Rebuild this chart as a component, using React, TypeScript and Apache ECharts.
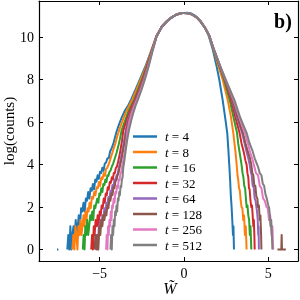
import React, { useEffect, useRef } from "react";
import * as echarts from "echarts";

const seriesNames = ["t = 4", "t = 8", "t = 16", "t = 32", "t = 64", "t = 128", "t = 256", "t = 512"];
const colors = ["#1f77b4", "#ff7f0e", "#2ca02c", "#d62728", "#9467bd", "#8c564b", "#e377c2", "#7f7f7f"];
const xTicks = [-5, 0, 5];
const yTicks = [0, 2, 4, 6, 8, 10];

const t4 = [[-7.53,0],[-7.45,0],[-7.2,null],
[-6.92,0],[-6.86,0.69],[-6.8,0],[-6.74,1.1],[-6.68,0],[-6.62,0.69],[-6.55,1.1],[-6.48,0.69],[-6.42,1.39],[-6.36,0.69],[-6.3,1.1],[-6.24,1.61],[-6.17,1.1],[-6.1,1.95],[-6.03,1.79],[-5.96,2.2],[-5.89,1.79],[-5.82,2.4],[-5.75,2.3],[-5.68,2.71],[-5.61,2.4],[-5.54,2.89],[-5.47,2.77],[-5.4,3.09],[-5.33,2.83],[-5.26,3.3],[-5.19,3.2],[-5.12,3.5],[-5.05,3.33],[-4.98,3.66],[-4.91,3.6],[-4.84,3.85],[-4.77,3.71],[-4.7,4.04],[-4.62,4.1],[-4.54,4.3],[-4.46,4.3],[-4.38,4.62],[-4.3,4.75],[-4.2,4.95],[-4.1,5.25],[-4.0,5.55],[-3.85,5.9],[-3.7,6.2],[-3.5,6.55],[-3.3,6.8],[-3.15,7.04],[-2.88,7.52],[-2.62,8.0],[-2.3,8.6],[-1.95,9.35],[-1.65,10.0],[-1.3,10.48],[-1.0,10.74],[-0.75,10.91],[-0.5,11.03],[-0.25,11.11],[0.0,11.15],[0.2,11.16],[0.45,11.12],[0.7,11.0],[1.0,10.76],[1.25,10.45],[1.45,10.12],[1.72,9.4],[1.95,8.6],[2.1,8.0],[2.3,7.04],[2.45,6.2],[2.57,5.5],[2.63,4.8],[2.69,4.0],[2.74,3.3],[2.78,2.6],[2.83,2.0],[2.87,1.39],[2.91,0.69],[2.94,1.1],[2.97,0]];

const t8 = [[-6.62,0],[-6.56,0.69],[-6.5,0],[-6.44,1.1],[-6.38,0.69],[-6.32,0],[-6.26,1.1],[-6.2,0.69],[-6.14,1.39],[-6.08,0.69],[-6.02,1.1],[-5.96,1.61],[-5.9,1.1],[-5.84,1.79],[-5.78,1.39],[-5.72,1.95],[-5.66,1.79],[-5.6,2.2],[-5.53,1.95],[-5.46,2.48],[-5.39,2.4],[-5.32,2.71],[-5.25,2.56],[-5.18,2.94],[-5.11,2.89],[-5.04,3.18],[-4.97,3.0],[-4.9,3.4],[-4.83,3.33],[-4.76,3.6],[-4.69,3.47],[-4.62,3.8],[-4.55,3.85],[-4.45,4.05],[-4.35,4.3],[-4.25,4.55],[-4.15,4.8],[-4.05,5.05],[-3.95,5.35],[-3.85,5.6],[-3.65,6.05],[-3.45,6.45],[-3.25,6.78],[-3.08,7.04],[-2.82,7.52],[-2.57,8.0],[-2.26,8.6],[-1.93,9.38],[-1.64,10.05],[-1.3,10.52],[-1.0,10.77],[-0.75,10.93],[-0.5,11.05],[-0.25,11.12],[0.0,11.15],[0.25,11.13],[0.5,11.07],[0.75,10.94],[1.0,10.74],[1.25,10.46],[1.48,10.1],[1.77,9.38],[2.06,8.6],[2.3,8.0],[2.6,7.04],[2.78,6.3],[2.93,5.5],[3.0,5.0],[3.06,4.6],[3.13,4.0],[3.18,3.5],[3.22,3.3],[3.27,2.9],[3.32,2.77],[3.37,2.3],[3.42,2.0],[3.47,1.95],[3.52,1.39],[3.57,1.61],[3.62,0.69],[3.67,1.1],[3.72,0]];

const t16 = [[-6.0,0],[-5.95,0.69],[-5.9,0],[-5.85,1.1],[-5.8,0.69],[-5.74,1.39],[-5.68,0.69],[-5.62,1.1],[-5.56,1.61],[-5.5,1.39],[-5.44,1.79],[-5.38,1.39],[-5.32,2.08],[-5.26,1.95],[-5.2,2.2],[-5.14,2.4],[-5.08,2.2],[-5.02,2.64],[-4.96,2.56],[-4.9,2.89],[-4.84,2.71],[-4.78,3.09],[-4.72,3.04],[-4.66,3.3],[-4.6,3.18],[-4.54,3.5],[-4.48,3.47],[-4.42,3.66],[-4.36,3.71],[-4.28,3.9],[-4.2,4.05],[-4.1,4.3],[-4.0,4.55],[-3.9,4.85],[-3.8,5.2],[-3.7,5.6],[-3.48,6.1],[-3.3,6.5],[-3.12,6.8],[-2.97,7.04],[-2.74,7.5],[-2.5,8.0],[-2.22,8.6],[-1.91,9.38],[-1.63,10.05],[-1.3,10.52],[-1.0,10.77],[-0.75,10.93],[-0.5,11.05],[-0.25,11.12],[0.0,11.15],[0.25,11.13],[0.5,11.07],[0.75,10.94],[1.0,10.73],[1.25,10.45],[1.5,10.08],[1.78,9.38],[2.12,8.6],[2.38,8.0],[2.72,7.04],[2.95,6.2],[3.15,5.5],[3.22,5.0],[3.3,4.6],[3.42,4.0],[3.48,3.6],[3.53,3.4],[3.58,3.0],[3.63,2.89],[3.68,2.4],[3.72,2.0],[3.77,2.08],[3.82,1.61],[3.87,1.39],[3.91,0.69],[3.95,1.1],[4.0,0]];

const t32 = [[-5.5,0],[-5.45,0.69],[-5.4,0],[-5.35,1.1],[-5.3,0.69],[-5.24,1.39],[-5.18,1.1],[-5.12,1.61],[-5.06,1.1],[-5.0,1.79],[-4.94,1.61],[-4.88,2.08],[-4.82,1.95],[-4.76,2.4],[-4.7,2.2],[-4.64,2.64],[-4.58,2.56],[-4.52,2.94],[-4.46,2.83],[-4.4,3.18],[-4.34,3.14],[-4.28,3.4],[-4.22,3.3],[-4.16,3.61],[-4.1,3.6],[-4.04,3.85],[-3.98,3.9],[-3.9,4.15],[-3.82,4.45],[-3.74,4.8],[-3.67,5.15],[-3.6,5.6],[-3.4,6.1],[-3.22,6.5],[-3.08,6.78],[-2.92,7.04],[-2.69,7.5],[-2.46,8.0],[-2.2,8.6],[-1.9,9.38],[-1.63,10.05],[-1.3,10.52],[-1.0,10.77],[-0.75,10.93],[-0.5,11.05],[-0.25,11.12],[0.0,11.15],[0.25,11.13],[0.5,11.07],[0.75,10.94],[1.0,10.73],[1.25,10.45],[1.5,10.08],[1.79,9.38],[2.14,8.6],[2.42,8.0],[2.8,7.04],[3.05,6.25],[3.3,5.5],[3.42,5.0],[3.55,4.6],[3.65,4.2],[3.72,4.0],[3.77,3.6],[3.82,3.4],[3.86,2.9],[3.9,2.83],[3.95,2.3],[4.0,2.0],[4.04,2.08],[4.08,1.61],[4.12,1.1],[4.15,1.39],[4.18,0.69],[4.2,0]];

const t64 = [[-5.2,0],[-5.15,0.69],[-5.1,0],[-5.05,1.1],[-5.0,0.69],[-4.95,1.39],[-4.9,1.1],[-4.84,1.61],[-4.78,1.39],[-4.72,1.95],[-4.66,1.61],[-4.6,2.2],[-4.54,2.08],[-4.48,2.48],[-4.42,2.3],[-4.36,2.77],[-4.3,2.71],[-4.24,3.04],[-4.18,2.94],[-4.12,3.3],[-4.06,3.26],[-4.0,3.5],[-3.94,3.53],[-3.88,3.8],[-3.82,4.0],[-3.74,4.3],[-3.66,4.65],[-3.58,5.0],[-3.52,5.3],[-3.46,5.6],[-3.32,6.1],[-3.15,6.5],[-3.0,6.8],[-2.86,7.04],[-2.64,7.5],[-2.42,8.0],[-2.17,8.6],[-1.88,9.38],[-1.62,10.05],[-1.3,10.52],[-1.0,10.77],[-0.75,10.93],[-0.5,11.05],[-0.25,11.12],[0.0,11.15],[0.25,11.13],[0.5,11.07],[0.75,10.94],[1.0,10.73],[1.25,10.45],[1.5,10.08],[1.8,9.38],[2.16,8.6],[2.44,8.0],[2.86,7.04],[3.15,6.2],[3.45,5.5],[3.6,5.0],[3.72,4.6],[3.82,4.3],[3.9,4.0],[3.96,3.7],[4.02,3.5],[4.08,3.0],[4.14,2.94],[4.2,2.4],[4.25,2.3],[4.3,2.0],[4.34,1.79],[4.38,1.39],[4.41,0.69],[4.43,1.1],[4.45,0]];

const t128 = [[-5.3,0],[-5.25,0.69],[-5.2,0],[-5.14,0.69],[-5.08,0],[-5.02,1.1],[-4.96,0.69],[-4.9,1.39],[-4.84,1.1],[-4.78,1.61],[-4.72,1.39],[-4.66,1.79],[-4.6,1.61],[-4.54,2.08],[-4.48,1.95],[-4.42,2.4],[-4.36,2.3],[-4.3,2.64],[-4.24,2.56],[-4.18,2.94],[-4.12,2.89],[-4.06,3.22],[-4.0,3.26],[-3.94,3.5],[-3.88,3.6],[-3.82,3.85],[-3.76,4.05],[-3.68,4.35],[-3.6,4.7],[-3.52,5.05],[-3.46,5.35],[-3.42,5.6],[-3.28,6.1],[-3.12,6.5],[-2.98,6.8],[-2.84,7.04],[-2.62,7.5],[-2.4,8.0],[-2.16,8.6],[-1.88,9.38],[-1.62,10.05],[-1.3,10.52],[-1.0,10.77],[-0.75,10.93],[-0.5,11.05],[-0.25,11.12],[0.0,11.15],[0.25,11.13],[0.5,11.07],[0.75,10.94],[1.0,10.73],[1.25,10.45],[1.5,10.08],[1.8,9.38],[2.16,8.6],[2.45,8.0],[2.88,7.04],[3.2,6.2],[3.5,5.5],[3.66,5.0],[3.8,4.6],[3.92,4.3],[4.0,4.0],[4.06,3.6],[4.12,3.5],[4.18,3.0],[4.24,3.0],[4.3,2.5],[4.36,2.4],[4.4,2.0],[4.45,2.08],[4.5,1.39],[4.54,1.61],[4.58,0.69],[4.6,0],[5.1,null],[5.55,0],[5.78,0],[5.8,0.69],[5.82,0],[6.05,0]];

const t256 = [[-4.62,0],[-4.58,0.69],[-4.54,0],[-4.5,1.1],[-4.46,0.69],[-4.42,1.39],[-4.38,1.1],[-4.34,1.79],[-4.3,1.39],[-4.26,2.08],[-4.22,1.95],[-4.17,2.4],[-4.12,2.2],[-4.07,2.71],[-4.02,2.64],[-3.97,3.0],[-3.92,2.89],[-3.87,3.3],[-3.82,3.26],[-3.77,3.56],[-3.72,3.66],[-3.66,3.95],[-3.6,4.2],[-3.53,4.5],[-3.46,4.85],[-3.4,5.2],[-3.35,5.6],[-3.22,6.1],[-3.07,6.5],[-2.93,6.8],[-2.8,7.04],[-2.58,7.5],[-2.36,8.0],[-2.13,8.6],[-1.87,9.38],[-1.62,10.05],[-1.3,10.52],[-1.0,10.77],[-0.75,10.93],[-0.5,11.05],[-0.25,11.12],[0.0,11.15],[0.25,11.13],[0.5,11.07],[0.75,10.94],[1.0,10.73],[1.25,10.45],[1.5,10.08],[1.8,9.38],[2.17,8.6],[2.47,8.0],[2.95,7.04],[3.3,6.2],[3.62,5.5],[3.8,5.0],[3.92,4.6],[4.05,4.3],[4.15,4.0],[4.28,3.6],[4.4,3.5],[4.5,3.0],[4.6,2.89],[4.7,2.4],[4.8,2.3],[4.9,2.0],[4.98,1.95],[5.05,1.39],[5.12,1.61],[5.2,0.69],[5.25,1.1],[5.3,0]];

const t512 = [[-4.36,0],[-4.32,0.69],[-4.28,0],[-4.24,1.1],[-4.2,0.69],[-4.16,1.39],[-4.12,1.1],[-4.08,1.79],[-4.04,1.61],[-4.0,2.08],[-3.96,1.79],[-3.92,2.4],[-3.88,2.3],[-3.84,2.71],[-3.8,2.56],[-3.76,3.0],[-3.72,2.94],[-3.68,3.3],[-3.64,3.4],[-3.6,3.85],[-3.55,4.1],[-3.5,4.4],[-3.44,4.75],[-3.38,5.1],[-3.3,5.45],[-3.24,5.7],[-3.12,6.1],[-2.98,6.5],[-2.86,6.8],[-2.74,7.04],[-2.53,7.5],[-2.32,8.0],[-2.1,8.6],[-1.85,9.38],[-1.62,10.05],[-1.3,10.52],[-1.0,10.77],[-0.75,10.93],[-0.5,11.05],[-0.25,11.12],[0.0,11.15],[0.25,11.13],[0.5,11.07],[0.75,10.94],[1.0,10.73],[1.25,10.45],[1.5,10.08],[1.8,9.38],[2.18,8.6],[2.48,8.0],[3.0,7.04],[3.35,6.2],[3.72,5.5],[3.9,5.0],[4.05,4.7],[4.2,4.3],[4.3,4.1],[4.4,3.9],[4.5,3.6],[4.6,3.5],[4.68,3.1],[4.76,3.0],[4.84,2.6],[4.92,2.4],[5.0,2.1],[5.06,1.95],[5.1,1.61],[5.14,1.1],[5.18,1.39],[5.22,0.69],[5.25,0]];

const allData = [t4, t8, t16, t32, t64, t128, t256, t512];

const serif = "'Liberation Serif', 'DejaVu Serif', serif";

export default function App() {
  const ref = useRef<HTMLDivElement>(null);
  useEffect(() => {
    if (!ref.current) return;
    const chart = echarts.init(ref.current, null, { renderer: "svg" });
    const tickStyle = { show: true, inside: true, length: 4, lineStyle: { color: "#000", width: 1 } };
    const lineStyle = { show: true, lineStyle: { color: "#000", width: 1.2 } };
    chart.setOption({
      animation: false,
      grid: { left: 39, right: 2, top: 1, bottom: 39, containLabel: false },
      xAxis: [
        {
          type: "value", min: -8.6, max: 6.77, position: "bottom",
          axisLine: { ...lineStyle, onZero: false },
          axisTick: { ...tickStyle, customValues: xTicks },
          axisLabel: { customValues: xTicks, color: "#000", fontFamily: serif, fontSize: 14, margin: 5,
            formatter: (v: number) => (v < 0 ? "\u2212" + Math.abs(v) : String(v)) },
          splitLine: { show: false },
        },
        {
          type: "value", min: -8.6, max: 6.77, position: "top",
          axisLine: { ...lineStyle, onZero: false },
          axisTick: { ...tickStyle, customValues: xTicks },
          axisLabel: { show: false },
          splitLine: { show: false },
        },
      ],
      yAxis: [
        {
          type: "value", min: -0.54, max: 11.71, position: "left",
          axisLine: { ...lineStyle, onZero: false },
          axisTick: { ...tickStyle, customValues: yTicks },
          axisLabel: { customValues: yTicks, color: "#000", fontFamily: serif, fontSize: 14, margin: 5 },
          splitLine: { show: false },
        },
        {
          type: "value", min: -0.54, max: 11.71, position: "right",
          axisLine: { ...lineStyle, onZero: false },
          axisTick: { ...tickStyle, customValues: yTicks },
          axisLabel: { show: false },
          splitLine: { show: false },
        },
      ],
      legend: {
        orient: "vertical", left: 133, top: 130, padding: 0,
        itemWidth: 24, itemHeight: 2.5, itemGap: 2.5, icon: "rect",
        data: seriesNames,
        formatter: (n: string) => "{i|t}{r|" + n.slice(1) + "}",
        textStyle: {
          fontFamily: serif, fontSize: 13, color: "#000", lineHeight: 13, padding: [0, 0, 0, 3],
          rich: {
            i: { fontStyle: "italic", fontFamily: serif, fontSize: 13, lineHeight: 13, color: "#000" },
            r: { fontFamily: serif, fontSize: 13, lineHeight: 13, color: "#000" },
          },
        },
      },
      series: allData.map((d, i) => ({
        type: "line", name: seriesNames[i], data: d, xAxisIndex: 0, yAxisIndex: 0,
        showSymbol: false, symbol: "none", connectNulls: false,
        color: colors[i], lineStyle: { color: colors[i], width: 2, join: "round" },
      })),
      graphic: [
        { type: "text", x: 283, y: 21, style: { text: "b)", font: "bold 20px " + serif, fill: "#000", align: "center", verticalAlign: "middle" } },
        { type: "text", x: 9, y: 131, rotation: Math.PI / 2, style: { text: "log(counts)", font: "15px " + serif, fill: "#000", align: "center", verticalAlign: "middle" } },
        { type: "text", x: 170, y: 288, style: { text: "W\u0303", font: "italic 16px " + serif, fill: "#000", align: "center", verticalAlign: "middle" } },
      ],
    });
    return () => chart.dispose();
  }, []);
  return <div ref={ref} style={{ position: "fixed", left: 0, top: 0, width: 300, height: 300 }} />;
}
